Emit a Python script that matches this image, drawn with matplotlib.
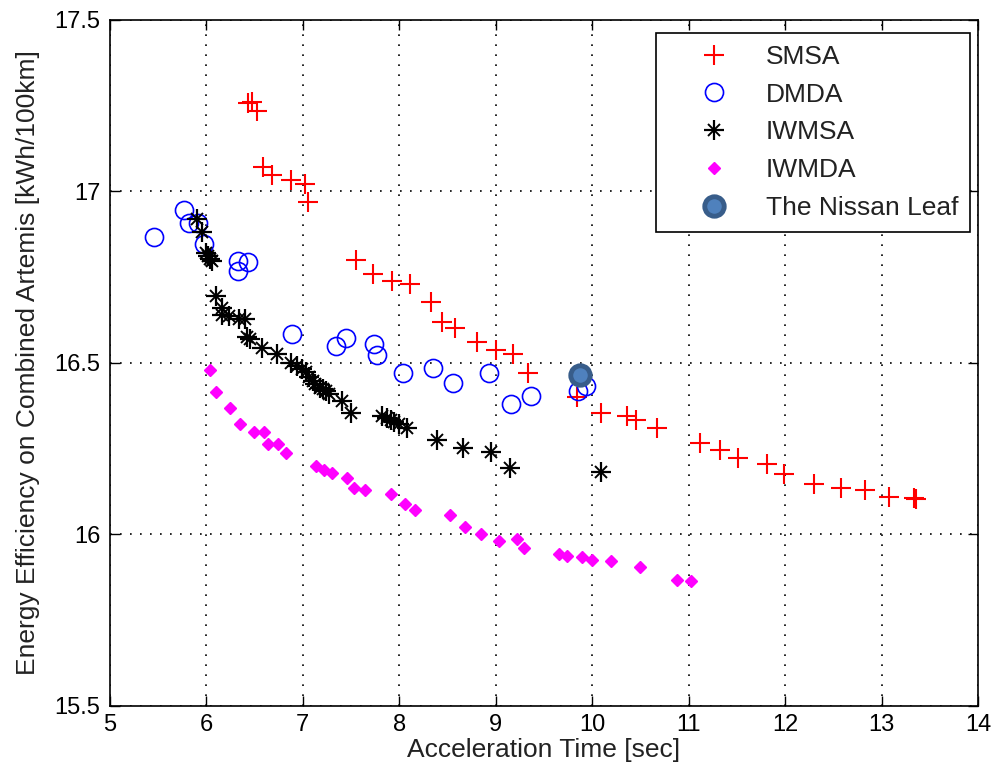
import matplotlib
matplotlib.use("Agg")
import matplotlib.pyplot as plt
from matplotlib.legend_handler import HandlerTuple
from matplotlib.lines import Line2D

plt.rcParams['font.family'] = ['Liberation Sans', 'DejaVu Sans']

smsa_x = [6.43, 6.47, 6.52, 6.59, 6.68, 6.88, 7.02, 7.05, 7.55, 7.73, 7.92, 8.11, 8.33, 8.44, 8.58,
          8.81, 9.00, 9.18, 9.33, 9.84, 10.09, 10.36, 10.45, 10.67, 11.12, 11.33, 11.51, 11.81,
          11.99, 12.30, 12.58, 12.83, 13.08, 13.34, 13.36]
smsa_y = [17.257, 17.26, 17.234, 17.070, 17.047, 17.032, 17.023, 16.968, 16.801, 16.760, 16.740,
          16.731, 16.678, 16.620, 16.602, 16.561, 16.538, 16.526, 16.471, 16.401, 16.354, 16.345,
          16.333, 16.310, 16.266, 16.246, 16.222, 16.205, 16.175, 16.146, 16.135, 16.129, 16.108,
          16.105, 16.102]

dmda_x = [5.455, 5.766, 5.818, 5.911, 5.973, 6.325, 6.429, 6.325, 6.884, 7.340, 7.443, 7.733,
          7.774, 8.043, 8.354, 8.561, 8.934, 9.161, 9.369, 9.855, 9.938]
dmda_y = [16.866, 16.947, 16.909, 16.909, 16.848, 16.798, 16.795, 16.769, 16.585, 16.550, 16.573,
          16.556, 16.523, 16.471, 16.485, 16.442, 16.471, 16.380, 16.404, 16.418, 16.433]

iwmsa_x = [5.901, 5.952, 5.994, 6.014, 6.035, 6.056, 6.097, 6.159, 6.159, 6.232, 6.335, 6.398,
           6.418, 6.449, 6.573, 6.729, 6.874, 6.936, 6.988, 7.029, 7.060, 7.101, 7.122, 7.174,
           7.205, 7.236, 7.267, 7.402, 7.495, 7.816, 7.868, 7.909, 7.940, 8.002, 8.085, 8.395,
           8.665, 8.954, 9.151, 10.093]
iwmsa_y = [16.921, 16.883, 16.822, 16.813, 16.804, 16.798, 16.696, 16.661, 16.640, 16.637, 16.629,
           16.629, 16.576, 16.570, 16.544, 16.526, 16.500, 16.491, 16.482, 16.474, 16.459, 16.447,
           16.439, 16.427, 16.424, 16.418, 16.409, 16.389, 16.354, 16.345, 16.339, 16.333, 16.327,
           16.322, 16.310, 16.275, 16.251, 16.240, 16.193, 16.181]

iwmda_x = [6.035, 6.097, 6.242, 6.346, 6.491, 6.594, 6.636, 6.739, 6.822, 7.133, 7.215, 7.298,
           7.453, 7.526, 7.640, 7.919, 8.054, 8.168, 8.530, 8.685, 8.851, 9.037, 9.224, 9.296,
           9.658, 9.741, 9.896, 10.000, 10.197, 10.497, 10.880, 11.025]
iwmda_y = [16.480, 16.415, 16.368, 16.322, 16.298, 16.298, 16.263, 16.263, 16.237, 16.199, 16.187,
           16.178, 16.164, 16.135, 16.129, 16.117, 16.088, 16.070, 16.058, 16.023, 16.000, 15.980,
           15.988, 15.962, 15.942, 15.936, 15.933, 15.927, 15.924, 15.904, 15.868, 15.865]

leaf_x = [9.87]
leaf_y = [16.465]

labels = ["SMSA", "DMDA", "IWMSA", "IWMDA", "The Nissan Leaf"]
xticks = [5, 6, 7, 8, 9, 10, 11, 12, 13, 14]
yticks = [15.5, 16, 16.5, 17, 17.5]
ytick_labels = ["15.5", "16", "16.5", "17", "17.5"]

fig = plt.figure(figsize=(9.96, 7.8), dpi=100)
ax = fig.add_axes([0.1104, 0.0949, 0.8715, 0.8795])

ax.plot(smsa_x, smsa_y, linestyle='none', marker='+', color='red', ms=14, mew=1.5)
ax.plot(dmda_x, dmda_y, linestyle='none', marker='o', mfc='none', mec='blue', ms=13, mew=1.2)
ax.plot(iwmsa_x, iwmsa_y, linestyle='none', marker='+', color='black', ms=14, mew=1.6)
ax.plot(iwmsa_x, iwmsa_y, linestyle='none', marker='x', color='black', ms=8, mew=1.4)
ax.plot(iwmda_x, iwmda_y, linestyle='none', marker='D', color='magenta', mec='magenta', ms=6.5)
ax.plot(leaf_x, leaf_y, linestyle='none', marker='o', mfc='#4f81bd', mec='#385d8a', ms=14, mew=3.5)

ax.set_xlim(5, 14)
ax.set_ylim(15.5, 17.5)
ax.set_xticks(xticks)
ax.set_yticks(yticks)
ax.set_xticklabels([str(t) for t in xticks])
ax.set_yticklabels(ytick_labels)
ax.grid(True, linestyle=(0, (1, 5)), color='black', linewidth=1.2)
ax.tick_params(direction='in', length=7, width=1, top=True, right=True, labelsize=17, pad=6,
               colors='black')
ax.tick_params(axis='y', pad=7)
for s in ax.spines.values():
    s.set_linewidth(1.2)

ax.set_xlabel("Acceleration Time [sec]", fontsize=19, labelpad=1, color='#222222')
ax.set_ylabel("Energy Efficiency on Combined Artemis [kWh/100km]", fontsize=19, labelpad=10,
              color='#222222')

h_smsa = Line2D([], [], linestyle='none', marker='+', color='red', ms=14, mew=1.5)
h_dmda = Line2D([], [], linestyle='none', marker='o', mfc='none', mec='blue', ms=13, mew=1.2)
h_iw1 = Line2D([], [], linestyle='none', marker='+', color='black', ms=14, mew=1.6)
h_iw2 = Line2D([], [], linestyle='none', marker='x', color='black', ms=8, mew=1.4)
h_iwmda = Line2D([], [], linestyle='none', marker='D', color='magenta', ms=6.5)
h_leaf = Line2D([], [], linestyle='none', marker='o', mfc='#4f81bd', mec='#385d8a', ms=14, mew=3.5)

leg = ax.legend([h_smsa, h_dmda, (h_iw1, h_iw2), h_iwmda, h_leaf], labels,
                handler_map={tuple: HandlerTuple(ndivide=1)},
                loc='upper right', bbox_to_anchor=(0.9908, 0.981), borderaxespad=0,
                fontsize=19, fancybox=False, framealpha=1, edgecolor='black',
                labelspacing=0.52, handlelength=3.5, handletextpad=0.2, borderpad=0.45)
leg.get_frame().set_linewidth(1.2)
for t in leg.get_texts():
    t.set_color('#222222')

fig.savefig("out.png", dpi=100)
